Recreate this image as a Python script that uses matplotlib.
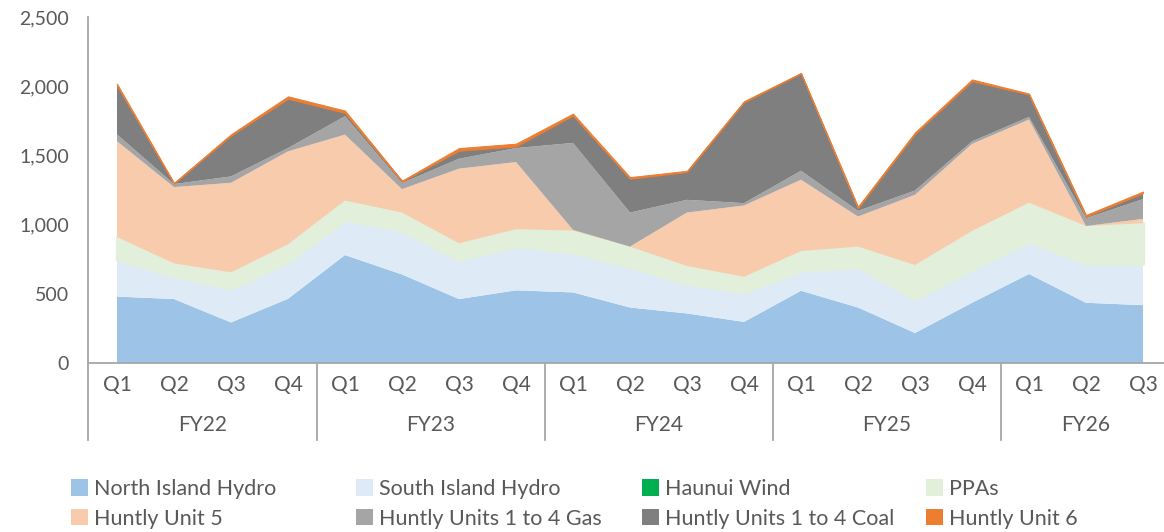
import matplotlib.pyplot as plt
from matplotlib.patches import Patch
from matplotlib.ticker import FuncFormatter

plt.rcParams['font.family'] = ['Lato', 'DejaVu Sans']

# quarterly generation (GWh), FY22 Q1 .. FY26 Q3
quarters = ['Q1', 'Q2', 'Q3', 'Q4'] * 4 + ['Q1', 'Q2', 'Q3']
years = ['FY22', 'FY23', 'FY24', 'FY25', 'FY26']

ni_hydro = [480, 462, 293, 464, 780, 640, 462, 525, 510, 401, 358, 297, 522, 401, 217, 435, 643, 435, 418]
si_hydro = [270, 166, 246, 268, 254, 322, 282, 323, 290, 295, 217, 217, 145, 295, 245, 242, 234, 285, 302]
haunui = [0] * 19
ppas = [160, 92, 116, 126, 140, 125, 121, 119, 157, 145, 126, 109, 142, 145, 246, 277, 282, 270, 290]
unit5 = [692, 551, 647, 671, 476, 169, 539, 485, 5, 0, 386, 515, 515, 217, 507, 629, 600, 0, 31]
gas = [49, 22, 46, 24, 133, 44, 72, 101, 628, 246, 92, 17, 65, 41, 31, 18, 19, 56, 143]
coal = [355, 3, 295, 356, 24, 12, 58, 12, 198, 244, 201, 729, 703, 20, 409, 435, 162, 12, 43]
unit6 = [12, 6, 10, 18, 17, 6, 19, 20, 14, 12, 9, 8, 4, 11, 12, 13, 7, 12, 12]

labels = ['North Island Hydro', 'South Island Hydro', 'Haunui Wind', 'PPAs',
          'Huntly Unit 5', 'Huntly Units 1 to 4 Gas', 'Huntly Units 1 to 4 Coal', 'Huntly Unit 6']
colors = ['#9DC3E6', '#DEEBF7', '#00B050', '#E2EFDA',
          '#F8CBAD', '#A5A5A5', '#7F7F7F', '#ED7D31']
text_col = '#595959'
axis_col = '#A6A6A6'

fig = plt.figure(figsize=(11.64, 5.32), dpi=100)
ax = fig.add_axes([88.5 / 1164, 169 / 532, 1083 / 1164, 346 / 532])

x = list(range(len(quarters)))
polys = ax.stackplot(x, ni_hydro, si_hydro, haunui, ppas, unit5, gas, coal, unit6,
                     colors=colors, linewidth=0)
polys[3].set_edgecolor(colors[3])
polys[3].set_linewidth(2.5)
polys[3].set_joinstyle('round')
polys[7].set_edgecolor(colors[7])
polys[7].set_linewidth(0.7)

ax.set_xlim(-0.5, 18.5)
ax.set_ylim(0, 2500)
ax.set_yticks(range(0, 2501, 500))
ax.yaxis.set_major_formatter(FuncFormatter(lambda v, p: f'{int(v):,}'))
ax.tick_params(axis='y', length=0, pad=14, labelsize=14, labelcolor=text_col)
ax.set_xticks([])

for s in ['top', 'right']:
    ax.spines[s].set_visible(False)
for s in ['left', 'bottom']:
    ax.spines[s].set_color(axis_col)
    ax.spines[s].set_linewidth(1.3)

# two-level category axis
tr = ax.get_xaxis_transform()
for i, q in enumerate(quarters):
    ax.text(i, -0.064, q, transform=tr, ha='center', va='center',
            fontsize=15, color=text_col)
starts = [0, 4, 8, 12, 16]
for k, yr in enumerate(years):
    s = starts[k]
    e = starts[k + 1] if k + 1 < len(starts) else len(quarters)
    ax.text((s + e - 1) / 2, -0.18, yr, transform=tr, ha='center', va='center',
            fontsize=15, color=text_col)
    ax.plot([s - 0.5, s - 0.5], [0, -0.222], transform=tr, color=axis_col,
            lw=1.3, clip_on=False)

# legend in four columns
cols = [[0, 4], [1, 5], [2, 6], [3, 7]]
col_x = [71, 356, 642, 926]
for cx, idx in zip(col_x, cols):
    handles = [Patch(facecolor=colors[i], edgecolor='none', label=labels[i]) for i in idx]
    fig.legend(handles=handles, loc='upper left', bbox_to_anchor=(cx / 1164, 1 - 479 / 532),
               frameon=False, fontsize=15.5, labelcolor=text_col, handlelength=0.8,
               handleheight=0.8, handletextpad=0.25, labelspacing=0.45, borderpad=0,
               borderaxespad=0)

fig.savefig('out.png', dpi=100)
